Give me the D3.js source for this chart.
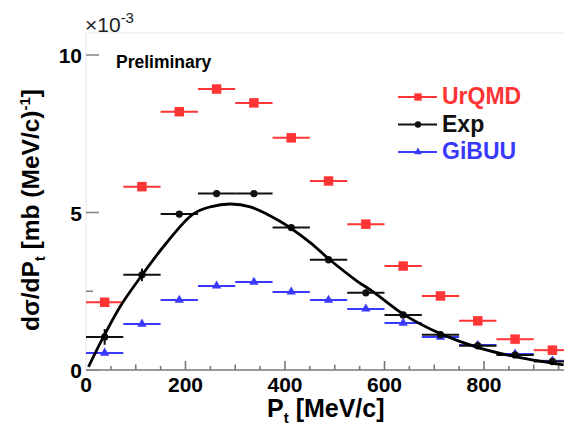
<!DOCTYPE html>
<html lang="en">
	<head>
		<meta charset="utf-8">
		<title>dsigma/dPt</title>
		<script type="text/javascript" src="https://cdn.jsdelivr.net/npm/d3@7"></script>
		<style type="text/css">
			body { margin: 0; background: white; }
			svg { display: block; font-family: "Liberation Sans", Arial, sans-serif; }
			.lbl { font-weight: bold; }
		</style>
	</head>
	<body>
		<script type="text/javascript">

			//Width and height
			var w = 564;
			var h = 426;

			//Bin centres (MeV/c), all bins are 75 wide
			var binCenters = [37.5, 112.5, 187.5, 262.5, 337.5, 412.5, 487.5, 562.5, 637.5, 712.5, 787.5, 862.5, 937.5];
			var binHalf = 37.5;

			//Values, in units of 1e-3
			var urqmd = [2.15, 5.82, 8.2, 8.92, 8.48, 7.37, 6.0, 4.63, 3.3, 2.35, 1.56, 0.98, 0.63];
			var expVals = [1.05, 3.02, 4.95, 5.6, 5.6, 4.52, 3.5, 2.45, 1.75, 1.12, 0.77, 0.48, 0.27];
			var expErr = [0.25, 0.2, 0.1, 0.1, 0.1, 0.1, 0.1, 0.1, 0.1, 0.1, 0.08, 0.08, 0.08];
			var gibuu = [0.54, 1.46, 2.22, 2.67, 2.79, 2.48, 2.22, 1.94, 1.49, 1.05, 0.79, 0.51, 0.29];

			//Fit curve, points
			var fitX = [5, 35, 70, 112, 160, 215, 250, 290, 330, 390, 450, 490, 540, 580, 640, 710, 790, 870, 960];
			var fitY = [0.1, 1.05, 2.05, 3.0, 4.0, 4.95, 5.18, 5.27, 5.18, 4.72, 4.05, 3.5, 2.88, 2.45, 1.75, 1.17, 0.7, 0.4, 0.16];

			//Axis ticks
			var xLabels = [0, 200, 400, 600, 800];
			var yLabels = [0, 5, 10];

			var legendNames = ["UrQMD", "Exp", "GiBUU"];
			var colors = { UrQMD: "#ff3535", Exp: "#111111", GiBUU: "#3a3aff" };

			var xScale = d3.scaleLinear().domain([0, 960]).range([86, 563.6]);
			var yScale = d3.scaleLinear().domain([0, 10]).range([370, 55]);

			var svg = d3.select("body")
						.append("svg")
						.attr("width", w)
						.attr("height", h);

			//Faint frame (top and left)
			svg.append("line")
				.attr("x1", 86).attr("x2", w)
				.attr("y1", yScale(10.7)).attr("y2", yScale(10.7))
				.attr("stroke", "#eeeeee").attr("stroke-width", 1.5);
			svg.append("line")
				.attr("x1", 86).attr("x2", 86)
				.attr("y1", yScale(10.7)).attr("y2", yScale(0))
				.attr("stroke", "#f0f0f0").attr("stroke-width", 1.5);

			//X axis: line, ticks of three lengths
			svg.append("line")
				.attr("x1", 86).attr("x2", w)
				.attr("y1", yScale(0)).attr("y2", yScale(0))
				.attr("stroke", "#9a9a9a").attr("stroke-width", 2);

			var xTicks = d3.range(50, 960, 50);
			svg.selectAll(".xtick")
				.data(xTicks)
				.enter()
				.append("line")
				.attr("class", "xtick")
				.attr("x1", function(d) { return xScale(d); })
				.attr("x2", function(d) { return xScale(d); })
				.attr("y1", yScale(0))
				.attr("y2", function(d) {
					var len = (d % 200 === 0) ? 9 : (d % 100 === 0 ? 5.5 : 4);
					return yScale(0) - len;
				})
				.attr("stroke", "#777")
				.attr("stroke-width", 1.6);

			svg.selectAll(".xlab")
				.data(xLabels)
				.enter()
				.append("text")
				.attr("class", "lbl")
				.attr("x", function(d) { return xScale(d); })
				.attr("y", 392)
				.attr("text-anchor", "middle")
				.attr("font-size", "21px")
				.text(function(d) { return d; });

			//Y axis ticks
			svg.selectAll(".ytick")
				.data([0, 2.5, 5, 10])
				.enter()
				.append("line")
				.attr("x1", 86)
				.attr("x2", function(d) { return d === 2.5 ? 93 : 99; })
				.attr("y1", function(d) { return yScale(d); })
				.attr("y2", function(d) { return yScale(d); })
				.attr("stroke", "#888")
				.attr("stroke-width", 1.6);

			svg.selectAll(".ylab")
				.data(yLabels)
				.enter()
				.append("text")
				.attr("class", "lbl")
				.attr("x", 82)
				.attr("y", function(d) { return yScale(d) + 8; })
				.attr("text-anchor", "end")
				.attr("font-size", "21px")
				.text(function(d) { return d; });

			//Exponent
			var expo = svg.append("text")
				.attr("x", 85)
				.attr("y", 32)
				.attr("font-size", "21px")
				.attr("fill", "#222");
			expo.append("tspan").text("\u00d710");
			expo.append("tspan").attr("dy", -9).attr("font-size", "15px").text("-3");

			//Preliminary
			svg.append("text")
				.attr("class", "lbl")
				.attr("x", 116)
				.attr("y", 68)
				.attr("font-size", "17.5px")
				.text("Preliminary");

			//Axis titles
			var xt = svg.append("text")
				.attr("class", "lbl")
				.attr("x", 267)
				.attr("y", 417)
				.attr("font-size", "25px");
			xt.append("tspan").text("P");
			xt.append("tspan").attr("dy", 6).attr("font-size", "15px").text("t");
			xt.append("tspan").attr("dy", -6).text(" [MeV/c]");

			var yt = svg.append("text")
				.attr("class", "lbl")
				.attr("transform", "translate(39,331) rotate(-90)")
				.attr("font-size", "24.5px");
			yt.append("tspan").text("d\u03c3/dP");
			yt.append("tspan").attr("dy", 6).attr("font-size", "15px").text("t");
			yt.append("tspan").attr("dy", -6).text(" [mb (MeV/c)");
			yt.append("tspan").attr("dy", -9).attr("font-size", "15px").text("-1");
			yt.append("tspan").attr("dy", 9).text("]");

			//Draw one series: horizontal bin bars + markers
			function drawSeries(vals, name, symType, symSize) {
				var g = svg.append("g");
				g.selectAll("line.h")
					.data(vals)
					.enter()
					.append("line")
					.attr("x1", function(d, i) { return xScale(binCenters[i] - binHalf); })
					.attr("x2", function(d, i) { return Math.min(xScale(binCenters[i] + binHalf), w); })
					.attr("y1", function(d) { return yScale(d); })
					.attr("y2", function(d) { return yScale(d); })
					.attr("stroke", colors[name])
					.attr("stroke-width", 2);
				g.selectAll("path")
					.data(vals)
					.enter()
					.append("path")
					.attr("d", d3.symbol().type(symType).size(symSize))
					.attr("transform", function(d, i) {
						return "translate(" + xScale(binCenters[i]) + "," + yScale(d) + ")";
					})
					.attr("fill", colors[name]);
				return g;
			}

			drawSeries(urqmd, "UrQMD", d3.symbolSquare, 90);
			drawSeries(gibuu, "GiBUU", d3.symbolTriangle, 38);
			var ge = drawSeries(expVals, "Exp", d3.symbolCircle, 42);
			ge.selectAll("line.v")
				.data(expVals)
				.enter()
				.append("line")
				.attr("x1", function(d, i) { return xScale(binCenters[i]); })
				.attr("x2", function(d, i) { return xScale(binCenters[i]); })
				.attr("y1", function(d, i) { return yScale(d - expErr[i]); })
				.attr("y2", function(d, i) { return yScale(d + expErr[i]); })
				.attr("stroke", colors.Exp)
				.attr("stroke-width", 2);

			//Fit curve
			var line = d3.line()
				.x(function(d) { return xScale(d[0]); })
				.y(function(d) { return yScale(d[1]); })
				.curve(d3.curveCatmullRom);
			svg.append("path")
				.datum(d3.zip(fitX, fitY))
				.attr("d", line)
				.attr("fill", "none")
				.attr("stroke", "black")
				.attr("stroke-width", 2.8);

			//Legend
			var legendTypes = [d3.symbolSquare, d3.symbolCircle, d3.symbolTriangle];
			var legendSizes = [55, 32, 26];
			var leg = svg.selectAll(".leg")
				.data(legendNames)
				.enter()
				.append("g")
				.attr("transform", function(d, i) { return "translate(0," + (97 + i * 27.5) + ")"; });
			leg.append("line")
				.attr("x1", 398).attr("x2", 437)
				.attr("y1", 0).attr("y2", 0)
				.attr("stroke", function(d) { return colors[d]; })
				.attr("stroke-width", 2);
			leg.append("path")
				.attr("d", function(d, i) { return d3.symbol().type(legendTypes[i]).size(legendSizes[i])(); })
				.attr("transform", "translate(418,0)")
				.attr("fill", function(d) { return colors[d]; });
			leg.append("text")
				.attr("class", "lbl")
				.attr("x", 442)
				.attr("y", 7)
				.attr("font-size", "23px")
				.attr("fill", function(d) { return colors[d]; })
				.text(function(d) { return d; });

		</script>
	</body>
</html>
